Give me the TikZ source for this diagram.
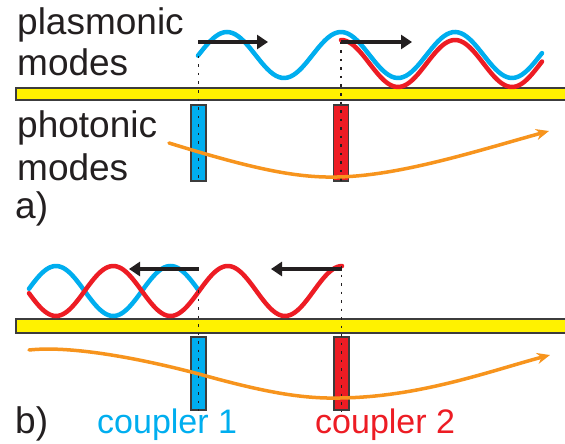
\documentclass[tikz,border=0pt]{standalone}
\usepackage{fontspec}
\setmainfont{Liberation Sans}
\usetikzlibrary{arrows.meta}
\definecolor{pblue}{RGB}{0,174,239}
\definecolor{pred}{RGB}{237,28,36}
\definecolor{pyellow}{RGB}{255,242,0}
\definecolor{porange}{RGB}{247,148,29}
\definecolor{pblack}{RGB}{35,31,32}
\definecolor{pgray}{RGB}{60,60,60}
\tikzset{
  lbl/.style={anchor=base west, inner sep=0pt, font=\fontsize{37}{40}\selectfont, text=pblack},
  clbl/.style={anchor=base west, inner sep=0pt, font=\fontsize{34}{38}\selectfont},
  metal/.style={fill=pyellow, draw=pgray, line width=1.2pt},
  couplerbox/.style={draw=pgray, line width=1.2pt, minimum width=15pt, inner sep=0pt},
  wave/.style={line width=4.5pt, line cap=round},
  dir/.style={pblack, line width=4pt, -{Triangle[length=11pt,width=14pt]}},
  guide/.style={pblack, line width=1.8pt, dash pattern=on 2.5pt off 6pt},
  photon/.style={porange, line width=3.5pt, line cap=round, -{Stealth[length=13pt,width=11pt]}}
}
\begin{document}
\begin{tikzpicture}[x=1pt,y=-1pt]
\clip (0,0) rectangle (565,444);
\fill[white] (0,0) rectangle (565,444);
% ---------- panel a ----------
\node[lbl] (tpl) at (17,35) {plasmonic};
\node[lbl] (tmo) at (17,75) {modes};
\node[lbl] (tph) at (17,137) {photonic};
\node[lbl] (tmo2) at (17,180) {modes};
\node[lbl] (ta) at (15,218) {a)};
\draw[metal] (16,88) rectangle (580,100);
\node[couplerbox, fill=pblue, minimum height=76pt] (c1a) at (198.5,143) {};
\node[couplerbox, fill=pred, minimum height=76pt] (c2a) at (341,143) {};
\coordinate (s1a) at (198.5,56);
\coordinate (s2a) at (341,42);
\draw[wave, pblue] plot[domain=198:542, samples=120] (\x, {55-23*cos(3.15789*(\x-341))});
\draw[wave, pred] plot[domain=341:542, samples=80] (\x, {63.5-23.5*cos(3.15789*(\x-341))});
\draw[guide] (s1a) -- (c1a.south);
\draw[guide] (s2a) -- (c2a.south);
\coordinate (a1s) at (198,42);
\coordinate (a1e) at (268,42);
\coordinate (a2s) at (341,42);
\coordinate (a2e) at (412,42);
\draw[dir] (a1s) -- (a1e);
\draw[dir] (a2s) -- (a2e);
\coordinate (pa0) at (169,143);
\coordinate (pa1) at (337,177);
\coordinate (pa2) at (549,131);
\draw[photon] (pa0) .. controls (250,168) and (295,178) .. (pa1) .. controls (400,176) and (480,150) .. (pa2);
% ---------- panel b ----------
\draw[metal] (16,319) rectangle (580,333);
\node[couplerbox, fill=pblue, minimum height=73pt] (c1b) at (198.5,373.5) {};
\node[couplerbox, fill=pred, minimum height=73pt] (c2b) at (341.5,373.5) {};
\draw[wave, pblue] plot[domain=29:198.5, samples=80] (\x, {291-25*cos(3.14410*(\x-56))});
\draw[wave, pred] plot[domain=29:342, samples=140] (\x, {291+25*cos(3.14410*(\x-56))});
\coordinate (s1b) at (198.5,290);
\coordinate (s2b) at (341.5,266);
\draw[guide] (s1b) -- (c1b.south);
\draw[guide] (s2b) -- (c2b.south);
\coordinate (b1s) at (198.5,269);
\coordinate (b1e) at (129,269);
\coordinate (b2s) at (341.5,269);
\coordinate (b2e) at (271,269);
\draw[dir] (b1s) -- (b1e);
\draw[dir] (b2s) -- (b2e);
\coordinate (pb0) at (29,350);
\coordinate (pb1) at (199,374);
\coordinate (pb2) at (340,398);
\coordinate (pb3) at (550,355);
\draw[photon] (pb0) .. controls (75,345) and (150,361) .. (pb1) .. controls (260,391) and (300,399) .. (pb2) .. controls (420,397) and (490,371) .. (pb3);
\node[lbl] (tb) at (15,433) {b)};
\node[clbl, text=pblue] (tc1) at (97,433) {coupler 1};
\node[clbl, text=pred] (tc2) at (315,433) {coupler 2};
\end{tikzpicture}
\end{document}
